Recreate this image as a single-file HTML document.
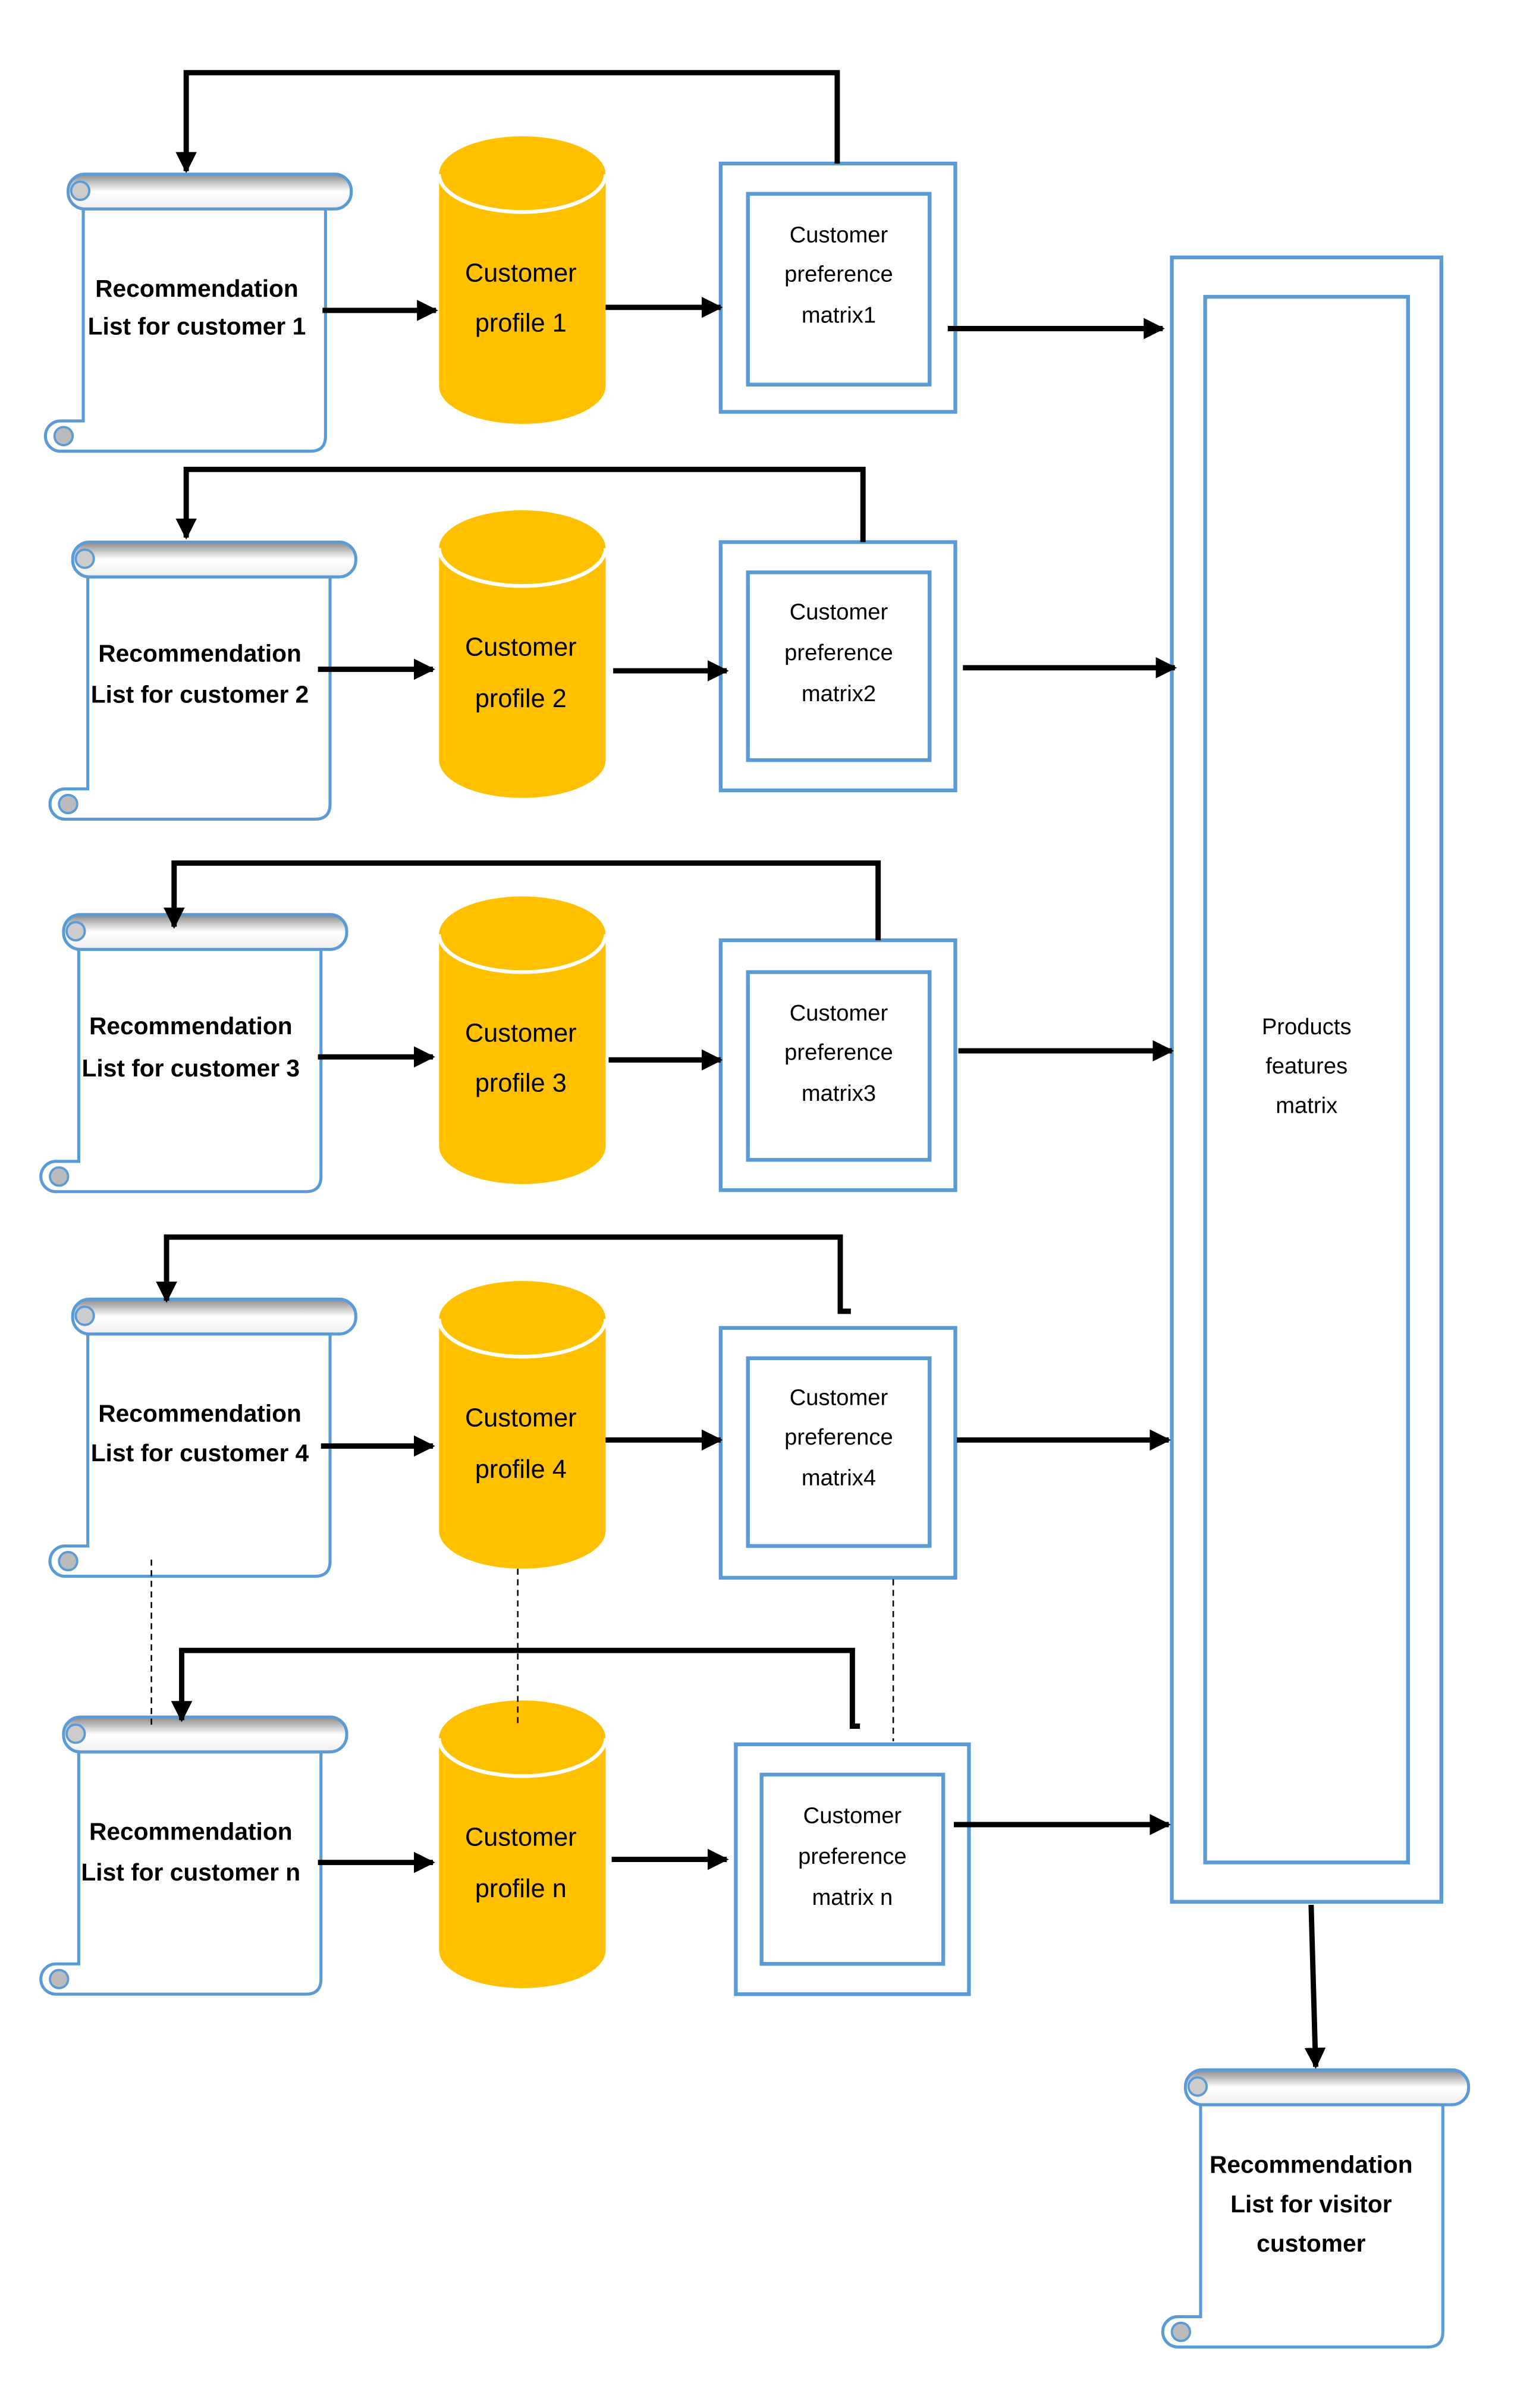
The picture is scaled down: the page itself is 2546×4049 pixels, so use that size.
<!DOCTYPE html>
<html><head><meta charset="utf-8"><style>html,body{margin:0;padding:0;background:#fff}svg{display:block}</style></head>
<body>
<svg width="2546" height="4049" viewBox="0 0 1000 1590.3" preserveAspectRatio="none" xmlns="http://www.w3.org/2000/svg" font-family="'Liberation Sans', sans-serif">
<defs>
<marker id="ah" viewBox="0 0 10 10" refX="9" refY="5" markerWidth="4" markerHeight="4" orient="auto" markerUnits="strokeWidth"><path d="M0,0 L10,5 L0,10 Z" fill="#000"/></marker>
<linearGradient id="roll" x1="0" y1="0" x2="0" y2="1"><stop offset="0" stop-color="#888"/><stop offset="0.5" stop-color="#fff"/><stop offset="1" stop-color="#eee"/></linearGradient>
<g id="scroll">
<path d="M10,23 L170,23 L170,173 Q170,183 160,183 L-5,183 A10,10 0 0 1 -5,163 L10,163 Z" fill="#fff" stroke="#5b9bd5" stroke-width="2"/>
<circle cx="-3" cy="173" r="6" fill="#bbb" stroke="#5b9bd5" stroke-width="1.5"/>
<rect x="0" y="0" width="187" height="23" rx="11" fill="url(#roll)" stroke="#5b9bd5" stroke-width="2"/>
<circle cx="8" cy="11" r="6" fill="#ccc" stroke="#5b9bd5" stroke-width="1.5"/>
</g>
<g id="cyl">
<path d="M0,25 A55,25 0 0 1 110,25 V165 A55,25 0 0 1 0,165 Z" fill="#ffc000"/>
<path d="M0,25 A55,25 0 0 0 110,25" fill="none" stroke="#fff" stroke-width="2.5"/>
</g>
</defs>
<g fill="none" stroke="#5b9bd5" stroke-width="2.5">
<rect x="476" y="108" width="155" height="164"/><rect x="494" y="128" width="120" height="126"/>
<rect x="476" y="358" width="155" height="164"/><rect x="494" y="378" width="120" height="124"/>
<rect x="476" y="621" width="155" height="165"/><rect x="494" y="642" width="120" height="124"/>
<rect x="476" y="877" width="155" height="165"/><rect x="494" y="897" width="120" height="124"/>
<rect x="486" y="1152" width="154" height="165"/><rect x="503" y="1172" width="120" height="125"/>
<rect x="774" y="170" width="178" height="1086"/><rect x="796" y="196" width="134" height="1034"/>
</g>
<use href="#scroll" x="45" y="115"/>
<use href="#scroll" x="48" y="358"/>
<use href="#scroll" x="42" y="604"/>
<use href="#scroll" x="48" y="858"/>
<use href="#scroll" x="42" y="1134"/>
<use href="#scroll" x="783" y="1367"/>
<use href="#cyl" x="290" y="90"/>
<use href="#cyl" x="290" y="337"/>
<use href="#cyl" x="290" y="592"/>
<use href="#cyl" x="290" y="846"/>
<use href="#cyl" x="290" y="1123"/>
<g stroke="#000" stroke-width="3.5" fill="none" marker-end="url(#ah)">
<path d="M213,205 H288"/><path d="M400,203 H476"/><path d="M626,217 H768"/>
<path d="M553,108 V48 H123 V113"/>
<path d="M210,442 H286"/><path d="M405,443 H480"/><path d="M636,441 H776"/>
<path d="M570,358 V310 H123 V355"/>
<path d="M210,698 H286"/><path d="M402,700 H476"/><path d="M633,694 H774"/>
<path d="M580,621 V570 H115 V612"/>
<path d="M212,955 H286"/><path d="M400,951 H476"/><path d="M632,951 H772"/>
<path d="M562,866 H555 V817 H110 V859"/>
<path d="M210,1230 H286"/><path d="M404,1228 H480"/><path d="M630,1205 H772"/>
<path d="M568,1140 H563 V1090 H120 V1136"/>
<path d="M866,1258 L869,1365"/>
</g>
<g stroke="#000" stroke-width="1" stroke-dasharray="4,3">
<path d="M100,1030 V1140"/><path d="M342,1036 V1140"/><path d="M590,1043 V1150"/>
</g>
<g font-size="16" text-anchor="middle" fill="#000" font-weight="bold">
<text x="130" y="196">Recommendation</text><text x="130" y="221">List for customer 1</text>
<text x="132" y="437">Recommendation</text><text x="132" y="464">List for customer 2</text>
<text x="126" y="683">Recommendation</text><text x="126" y="711">List for customer 3</text>
<text x="132" y="939">Recommendation</text><text x="132" y="965">List for customer 4</text>
<text x="126" y="1215">Recommendation</text><text x="126" y="1242">List for customer n</text>
<text x="866" y="1435">Recommendation</text><text x="866" y="1461">List for visitor</text><text x="866" y="1487">customer</text>
</g>
<g font-size="17" text-anchor="middle" fill="#000">
<text x="344" y="186">Customer</text><text x="344" y="219">profile 1</text>
<text x="344" y="433">Customer</text><text x="344" y="467">profile 2</text>
<text x="344" y="688">Customer</text><text x="344" y="721">profile 3</text>
<text x="344" y="942">Customer</text><text x="344" y="976">profile 4</text>
<text x="344" y="1219">Customer</text><text x="344" y="1253">profile n</text>
</g>
<g font-size="15" text-anchor="middle" fill="#000">
<text x="554" y="160">Customer</text><text x="554" y="186">preference</text><text x="554" y="213">matrix1</text>
<text x="554" y="409">Customer</text><text x="554" y="436">preference</text><text x="554" y="463">matrix2</text>
<text x="554" y="674">Customer</text><text x="554" y="700">preference</text><text x="554" y="727">matrix3</text>
<text x="554" y="928">Customer</text><text x="554" y="954">preference</text><text x="554" y="981">matrix4</text>
<text x="563" y="1204">Customer</text><text x="563" y="1231">preference</text><text x="563" y="1258">matrix n</text>
<text x="863" y="683">Products</text><text x="863" y="709">features</text><text x="863" y="735">matrix</text>
</g>
</svg>
</body></html>
